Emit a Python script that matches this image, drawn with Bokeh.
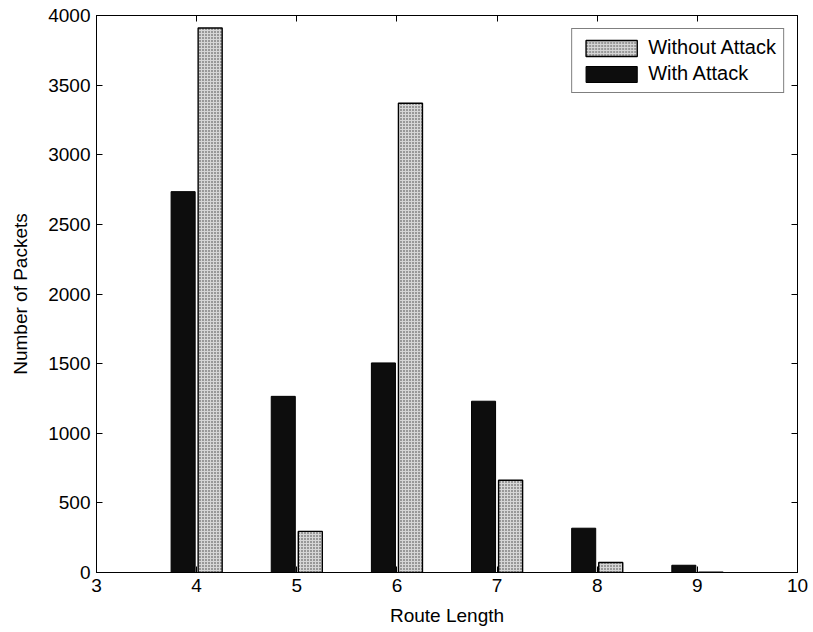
from bokeh.plotting import figure
from bokeh.models import ColumnDataSource, LinearAxis, Range1d, FixedTicker, Legend, LegendItem
from bokeh.embed import file_html
from bokeh.resources import INLINE
from bokeh.transform import dodge

route_length = [4, 5, 6, 7, 8, 9]
with_attack = [2735, 1265, 1505, 1230, 318, 52]
without_attack = [3910, 295, 3370, 662, 72, 3]
x_ticks = [3, 4, 5, 6, 7, 8, 9, 10]
y_ticks = [0, 500, 1000, 1500, 2000, 2500, 3000, 3500, 4000]

src = ColumnDataSource(dict(x=route_length, w=with_attack, wo=without_attack))

FONT = "Liberation Sans"
p = figure(width=813, height=632, output_backend="svg", toolbar_location=None,
           x_range=Range1d(3, 10), y_range=Range1d(0, 4000),
           min_border_left=96, min_border_right=16, min_border_top=15, min_border_bottom=60)
p.outline_line_color = "black"
p.outline_line_width = 1
p.xgrid.visible = False
p.ygrid.visible = False

r_w = p.vbar(x=dodge("x", -0.135, range=p.x_range), top="w", width=0.24, source=src,
             fill_color="#0d0d0d", line_color="black", line_width=1)
r_wo = p.vbar(x=dodge("x", 0.135, range=p.x_range), top="wo", width=0.24, source=src,
              fill_color="#d6d6d6", line_color="black", line_width=1.4,
              hatch_pattern="dot", hatch_color="#3a3a3a", hatch_scale=3, hatch_weight=1)

def style(ax, labels=True):
    ax.major_tick_in = 6
    ax.major_tick_out = 0
    ax.minor_tick_in = 0
    ax.minor_tick_out = 0
    ax.axis_line_color = "black"
    ax.major_tick_line_color = "black"
    ax.major_label_text_font = FONT
    ax.major_label_text_font_size = "19px"
    ax.major_label_text_color = "black"
    ax.axis_label_text_font = FONT
    ax.axis_label_text_font_size = "19px"
    ax.axis_label_text_font_style = "normal"
    ax.axis_label_text_color = "black"
    if not labels:
        ax.major_label_text_color = None
        ax.major_label_text_font_size = "1px"
        ax.major_label_standoff = 0

p.xaxis.ticker = FixedTicker(ticks=x_ticks)
p.yaxis.ticker = FixedTicker(ticks=y_ticks)
p.xaxis.axis_label = "Route Length"
p.yaxis.axis_label = "Number of Packets"
p.xaxis.major_label_standoff = 6
p.yaxis.major_label_standoff = 6
p.xaxis.axis_label_standoff = 10
p.yaxis.axis_label_standoff = 14
style(p.xaxis[0])
style(p.yaxis[0])

top = LinearAxis(ticker=FixedTicker(ticks=x_ticks))
right = LinearAxis(ticker=FixedTicker(ticks=y_ticks))
style(top, labels=False)
style(right, labels=False)
p.add_layout(top, "above")
p.add_layout(right, "right")

legend = Legend(items=[LegendItem(label="Without Attack", renderers=[r_wo]),
                       LegendItem(label="With Attack", renderers=[r_w])],
                location="top_right")
legend.border_line_color = "black"
legend.border_line_width = 1
legend.label_text_font = FONT
legend.label_text_font_size = "20px"
legend.label_text_color = "black"
legend.glyph_width = 64
legend.glyph_height = 20
legend.spacing = 3
legend.padding = 7
legend.margin = 13
legend.label_standoff = 5
p.add_layout(legend)

open("out.html", "w").write(file_html(p, INLINE))
